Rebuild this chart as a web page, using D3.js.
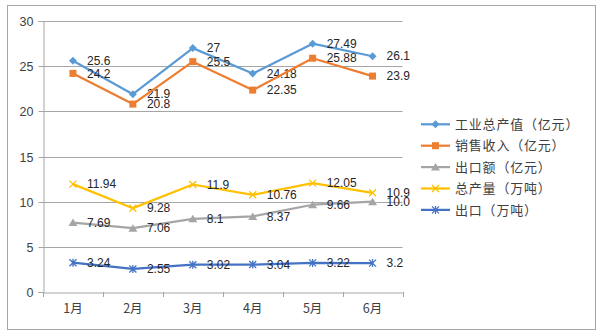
<!DOCTYPE html>
<html><head><meta charset="utf-8">
<script src="https://cdn.jsdelivr.net/npm/d3@7"></script>
<style>body{margin:0;background:#fff}svg{display:block}</style>
</head><body>
<script>
const months = ["1月","2月","3月","4月","5月","6月"];
const seriesNames = ["工业总产值（亿元）","销售收入（亿元）","出口额（亿元）","总产量（万吨）","出口（万吨）"];
const outputValue = [25.6, 21.9, 27, 24.18, 27.49, 26.1];
const salesIncome = [24.2, 20.8, 25.5, 22.35, 25.88, 23.9];
const exportValue = [7.69, 7.06, 8.1, 8.37, 9.66, 10.0];
const totalOutput = [11.94, 9.28, 11.9, 10.76, 12.05, 10.98];
const exportVolume = [3.24, 2.55, 3.02, 3.04, 3.22, 3.2];
const labelsOutputValue = ["25.6","21.9","27","24.18","27.49","26.1"];
const labelsSales = ["24.2","20.8","25.5","22.35","25.88","23.9"];
const labelsExportValue = ["7.69","7.06","8.1","8.37","9.66","10.0"];
const labelsTotalOutput = ["11.94","9.28","11.9","10.76","12.05","10.9"];
const labelsExportVolume = ["3.24","2.55","3.02","3.04","3.22","3.2"];
const yTicks = [0,5,10,15,20,25,30];

const colors = ["#5B9BD5","#ED7D31","#A5A5A5","#FFC000","#4472C4"];
const markers = ["diamond","square","triangle","x","asterisk"];
const series = [
  {name: seriesNames[0], values: outputValue, labels: labelsOutputValue},
  {name: seriesNames[1], values: salesIncome, labels: labelsSales},
  {name: seriesNames[2], values: exportValue, labels: labelsExportValue},
  {name: seriesNames[3], values: totalOutput, labels: labelsTotalOutput},
  {name: seriesNames[4], values: exportVolume, labels: labelsExportVolume}
];

const W = 605, H = 334;
const svg = d3.select("body").append("svg").attr("width", W).attr("height", H);
svg.append("rect").attr("x", 7.5).attr("y", 5.5).attr("width", 588).attr("height", 324)
  .attr("fill", "#fff").attr("stroke", "#a6a6a6").attr("stroke-width", 1);

const x = d3.scaleBand().domain(months).range([43, 402.5]);
const y = d3.scaleLinear().domain([0, 30]).range([292, 21]);

const numFont = "'Liberation Sans', Arial, sans-serif";
const cjkFont = "'Noto Sans CJK SC', sans-serif";

// gridlines
svg.append("g").selectAll("line").data(yTicks.filter(d => d > 0)).join("line")
  .attr("x1", 43).attr("x2", 402.5)
  .attr("y1", d => Math.round(y(d)) + 0.5).attr("y2", d => Math.round(y(d)) + 0.5)
  .attr("stroke", "#a6a6a6").attr("stroke-width", 1);

// y axis
const yAxis = svg.append("g").attr("transform", "translate(43.5,0)")
  .call(d3.axisLeft(y).tickValues(yTicks).tickSize(5).tickPadding(5));
yAxis.select(".domain").attr("stroke", "#a6a6a6");
yAxis.selectAll(".tick line").attr("stroke", "#a6a6a6");
yAxis.selectAll(".tick").attr("transform", d => `translate(0,${Math.round(y(d)) + 0.5})`);
yAxis.selectAll("text").attr("font-family", numFont).attr("font-size", 12.5).attr("fill", "#404040");

// x axis
const xAxis = svg.append("g").attr("transform", "translate(0,292.5)")
  .call(d3.axisBottom(x).tickSize(0).tickPadding(12));
xAxis.select(".domain").attr("stroke", "#a6a6a6");
xAxis.selectAll("text").attr("font-family", cjkFont).attr("font-size", 12.5).attr("fill", "#404040");
const bounds = months.map(m => x(m)).concat([x.range()[1]]);
svg.append("g").selectAll("line").data(bounds).join("line")
  .attr("x1", d => Math.round(d) + 0.5).attr("x2", d => Math.round(d) + 0.5)
  .attr("y1", 292).attr("y2", 297).attr("stroke", "#a6a6a6");

const cx = m => x(m) + x.bandwidth() / 2;

function drawMarker(g, type, color) {
  if (type === "diamond") {
    g.append("path").attr("d", "M0,-4L4,0L0,4L-4,0Z").attr("fill", color);
  } else if (type === "square") {
    g.append("rect").attr("x", -3.5).attr("y", -3.5).attr("width", 7).attr("height", 7).attr("fill", color);
  } else if (type === "triangle") {
    g.append("path").attr("d", "M0,-4L4.5,3.5L-4.5,3.5Z").attr("fill", color);
  } else if (type === "x") {
    g.append("path").attr("d", "M-3.5,-3.5L3.5,3.5M-3.5,3.5L3.5,-3.5").attr("stroke", color).attr("stroke-width", 1.3).attr("fill", "none");
  } else if (type === "asterisk") {
    g.append("path").attr("d", "M-3.5,-3.5L3.5,3.5M-3.5,3.5L3.5,-3.5M0,-4L0,4").attr("stroke", color).attr("stroke-width", 1.3).attr("fill", "none");
  }
}

const line = d3.line().x((d, i) => cx(months[i])).y(d => y(d));

series.forEach((s, si) => {
  const g = svg.append("g");
  g.append("path").datum(s.values).attr("d", line)
    .attr("fill", "none").attr("stroke", colors[si]).attr("stroke-width", 2.25).attr("stroke-linejoin", "round");
  s.values.forEach((v, i) => {
    const mg = g.append("g").attr("transform", `translate(${cx(months[i])},${y(v)})`);
    drawMarker(mg, markers[si], colors[si]);
  });
  g.selectAll("text.lbl").data(s.values).join("text").attr("class", "lbl")
    .attr("x", (d, i) => cx(months[i]) + 14).attr("y", d => y(d))
    .attr("dy", "0.35em").attr("font-family", numFont).attr("font-size", 12)
    .attr("fill", "#262626").text((d, i) => s.labels[i]);
});

// legend
const legend = svg.append("g");
series.forEach((s, si) => {
  const ly = 124.3 + si * 21.4;
  const lg = legend.append("g");
  lg.append("line").attr("x1", 421).attr("x2", 450).attr("y1", ly).attr("y2", ly)
    .attr("stroke", colors[si]).attr("stroke-width", 2.25);
  const mg = lg.append("g").attr("transform", `translate(435.5,${ly})`);
  drawMarker(mg, markers[si], colors[si]);
  lg.append("text").attr("x", 455).attr("y", ly).attr("dy", "0.36em")
    .attr("font-family", cjkFont).attr("font-size", 13).attr("letter-spacing", 0.8)
    .attr("fill", "#404040").text(s.name);
});
</script>
</body></html>
